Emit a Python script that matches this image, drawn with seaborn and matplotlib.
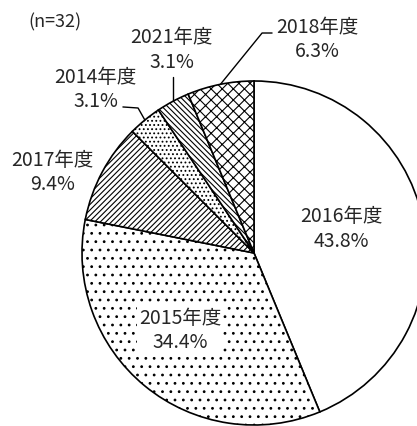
import numpy as np
import matplotlib
matplotlib.use("Agg")
import matplotlib.pyplot as plt
import seaborn as sns

# data (n=32)
years = ["2016年度", "2015年度", "2017年度", "2014年度", "2021年度", "2018年度"]
counts = [14, 11, 3, 1, 1, 2]
n_total = 32

sns.set_style("white")
plt.rcParams["font.family"] = ["Noto Sans CJK JP", "DejaVu Sans"]
plt.rcParams["hatch.linewidth"] = 0.8

hatches = ["", "..", "//////", "....", "\\\\\\\\\\\\", "xxx"]

# label centres (data units, pie radius = 1)
label_xy = [(0.51, 0.14), (-0.43, -0.45), (-1.17, 0.47),
            (-0.92, 0.95), (-0.48, 1.18), (0.37, 1.24)]
# white box behind the label? (only the one sitting on the dots)
label_box = [False, True, False, False, False, False]
# leader lines for the small slices: index -> extra points after the edge point
leaders = {3: [(-0.674, 0.843), (-0.762, 0.849)],
           4: [(None, 1.023)],
           5: [(0.047, 1.279), (0.105, 1.279)]}

fig = plt.figure(figsize=(4.17, 4.26), dpi=100)
ax = fig.add_axes([0, 0, 1, 1])

wedges, _ = ax.pie(counts, startangle=90, counterclock=False,
                   colors=["white"] * len(counts),
                   wedgeprops=dict(edgecolor="black", linewidth=1.2))
for w, h in zip(wedges, hatches):
    w.set_hatch(h)

pcts = np.floor(np.array(counts) / n_total * 1000 + 0.5) / 10
for i, (w, name, p) in enumerate(zip(wedges, years, pcts)):
    x, y = label_xy[i]
    box = dict(facecolor="white", edgecolor="none", pad=1) if label_box[i] else None
    ax.text(x, y, f"{name}\n{p:.1f}%", ha="center", va="center",
            fontsize=14, linespacing=1.2, bbox=box)
    if i in leaders:
        mid = np.deg2rad((w.theta1 + w.theta2) / 2)
        ex, ey = np.cos(mid), np.sin(mid)
        xs, ys = [ex], [ey]
        for px, py in leaders[i]:
            xs.append(ex if px is None else px)
            ys.append(py)
        ax.plot(xs, ys, color="black", lw=1.0)

ax.text(0.132, 0.948, "(n=32)", transform=ax.transAxes, ha="center",
        va="center", fontsize=13)

ax.set_xlim(-1.4767, 0.9477)
ax.set_ylim(-1.0058, 1.4709)
ax.set_aspect("auto")
ax.axis("off")

fig.savefig("out.png", dpi=100)
